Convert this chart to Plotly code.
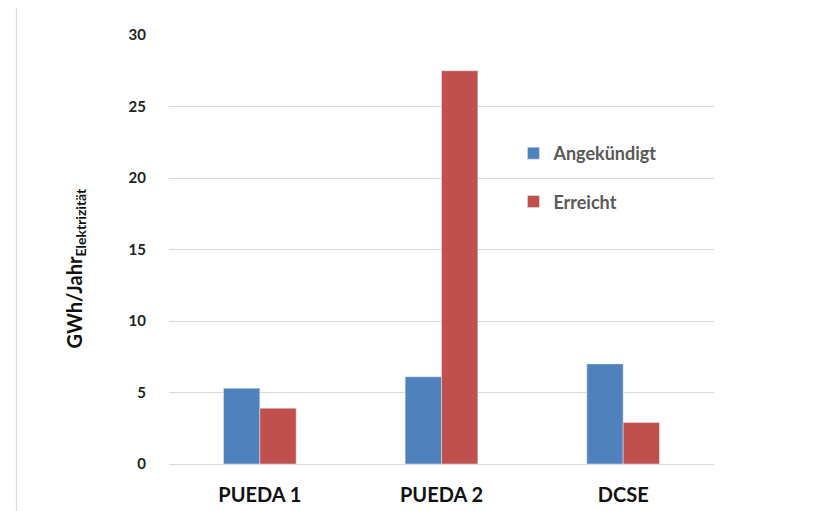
import plotly.graph_objects as go

categories = ["PUEDA 1", "PUEDA 2", "DCSE"]
angekuendigt = [5.3, 6.1, 7.0]
erreicht = [3.9, 27.5, 2.9]
y_ticks = [0, 5, 10, 15, 20, 25, 30]

FONT = "Lato, Open Sans, sans-serif"

fig = go.Figure()
fig.add_trace(go.Bar(x=categories, y=angekuendigt, name="Angekündigt",
                     marker_color="#4F81BD", legendgroup="a"))
fig.add_trace(go.Bar(x=categories, y=erreicht, name="Erreicht",
                     marker_color="#C0504D", legendgroup="b"))

fig.update_layout(
    width=807, height=503,
    margin=dict(l=161, r=101, t=27, b=47),
    paper_bgcolor="white", plot_bgcolor="white",
    barmode="group", bargap=0.6, bargroupgap=0,
    font=dict(family=FONT),
    legend=dict(x=0.632, y=0.767, xanchor="left", yanchor="top",
                font=dict(size=18, color="#595959", weight="bold"),
                tracegroupgap=22, bgcolor="rgba(0,0,0,0)",
                itemwidth=30),
    yaxis=dict(range=[0, 30], tickvals=y_ticks, showgrid=True,
               gridcolor="#d9d9d9", gridwidth=1, zeroline=False,
               showline=False, ticks="", ticklabelstandoff=22,
               automargin=False,
               tickfont=dict(size=15, color="#222", family=FONT, weight="bold")),
    xaxis=dict(showline=True, linecolor="#d9d9d9", ticks="",
               ticklabelstandoff=13, automargin=False,
               tickfont=dict(size=20, color="#111", family=FONT, weight="bold")),
    annotations=[dict(
        text="GWh/Jahr<sub>Elektrizität</sub>",
        xref="paper", yref="paper", x=-0.2, y=0.457,
        textangle=-90, showarrow=False,
        font=dict(size=20, color="#111", family=FONT, weight="bold"))],
    shapes=[dict(type="rect", xref="paper", yref="paper",
                 x0=-0.28, x1=1.3, y0=-0.2, y1=1.065,
                 line=dict(color="#d9d9d9", width=1))],
)

fig.write_html("out.html")
